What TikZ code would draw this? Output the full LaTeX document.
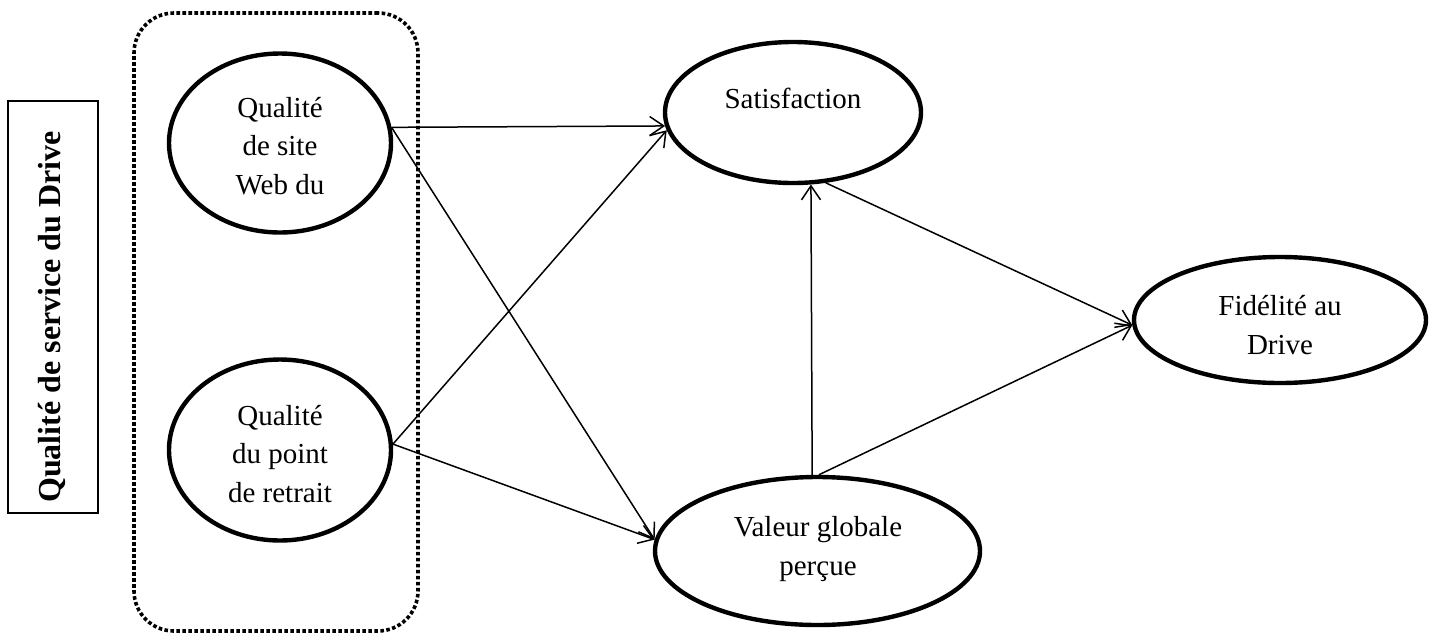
\documentclass[tikz,border=0pt]{standalone}
\usepackage{fontspec}
\setmainfont{Liberation Serif}
\usetikzlibrary{arrows.meta,shapes.geometric,calc}
\begin{document}
\begin{tikzpicture}[x=0.5pt,y=-0.5pt,
  oval/.style={ellipse, draw, line width=2.2pt, inner sep=0pt},
  lbl/.style={align=center, font=\fontsize{14.5}{19.25}\selectfont, anchor=base, inner sep=0pt},
  arr/.style={-{Straight Barb[length=7pt,width=9.5pt]}, line width=0.75pt},
  dotbox/.style={draw, line width=1.8pt, dash pattern=on 1.8pt off 1.2pt, rounded corners=20pt, inner sep=0pt},
  titlebox/.style={draw, line width=1pt, inner sep=0pt},
]
\useasboundingbox (0,0) rectangle (1440,633);

% left title box
\node[titlebox, minimum width=45pt, minimum height=206pt] (box) at (53,307) {};
\node[rotate=90, anchor=base, inner sep=0pt, font=\bfseries\fontsize{16}{19}\selectfont] (title) at (60,317) {Qualité de service du Drive};

% dotted group
\node[dotbox, minimum width=142pt, minimum height=309pt] (grp) at (276,322) {};

% ellipses
\node[oval, minimum width=111pt, minimum height=89.5pt] (e1) at (280,143) {};
\node[oval, minimum width=111pt, minimum height=90.5pt] (e2) at (280,450) {};
\node[oval, minimum width=128pt, minimum height=70.5pt] (sat) at (793,112.5) {};
\node[oval, minimum width=162.5pt, minimum height=74pt] (val) at (817.5,551) {};
\node[oval, minimum width=146pt, minimum height=63pt] (fid) at (1280,320) {};

% texts (anchor base = baseline of last line)
\node[lbl] (t1) at (280,194) {Qualité\\de site\\Web du};
\node[lbl] (t2) at (280,502) {Qualité\\du point\\de retrait};
\node[lbl] (t3) at (793,108) {Satisfaction};
\node[lbl] (t4) at (818,575) {Valeur globale\\perçue};
\node[lbl] (t5) at (1280,354) {Fidélité au\\Drive};

% connectors
\draw[arr] (e1.8) -- (sat.186);
\draw[arr] (e1.8) -- (val.176);
\draw[arr] (e2.3) -- (sat.188);
\draw[arr] (e2.3) -- (val.176);
\draw[arr] (val.94) -- (sat.284.5);
\draw[arr] (sat.295) -- (fid.182);
\draw[arr] (val.89) -- (fid.182);
\end{tikzpicture}
\end{document}
